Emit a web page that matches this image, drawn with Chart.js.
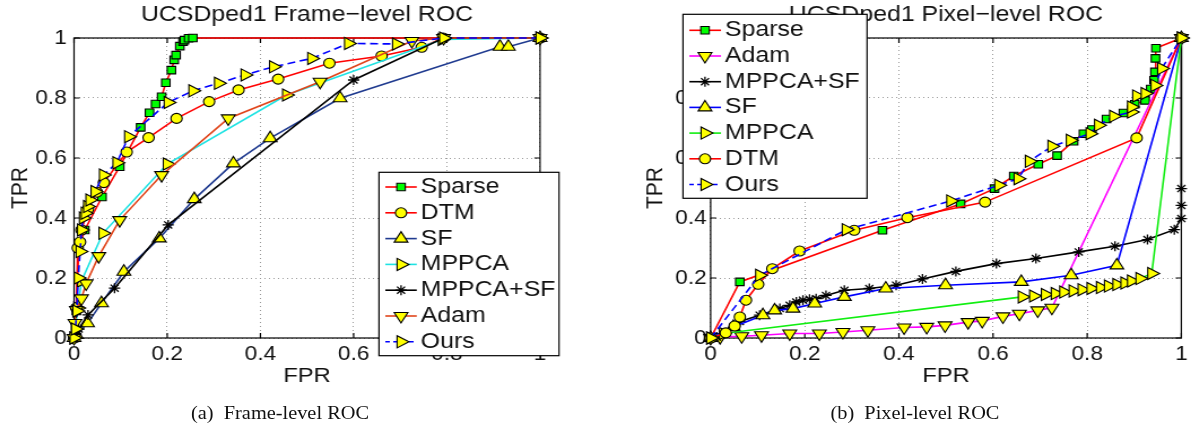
<!DOCTYPE html>
<html>
<head>
<meta charset="utf-8">
<script src="https://cdn.jsdelivr.net/npm/chart.js@4.4.0/dist/chart.umd.min.js"></script>
<style>
  html, body { margin: 0; padding: 0; background: #fff; overflow: hidden; }
  /* the reference figure is stretched horizontally, so the whole page is too */
  #wrap { position: absolute; left: 0; top: 0; width: 1055px; height: 428px; transform: scaleX(1.13); transform-origin: 0 0; }
  canvas { position: absolute; top: 0; }
  .cap { position: absolute; top: 403px; width: 260px; text-align: center; font: 18px "Liberation Serif", "Times New Roman", serif; line-height: 20px; white-space: pre; color: #111; }
</style>
</head>
<body>
<div id="wrap">
  <canvas id="frameChart" width="530" height="392" style="left:0"></canvas>
  <canvas id="pixelChart" width="515" height="392" style="left:540px"></canvas>
  <div class="cap" style="left:117.8px">(a)  Frame-level ROC</div>
  <div class="cap" style="left:679.7px">(b)  Pixel-level ROC</div>
</div>
<script>
const FONT = '"Liberation Sans", Arial, Helvetica, sans-serif';

const tickValues = [0, 0.2, 0.4, 0.6, 0.8, 1];
const tickLabels = ["0", "0.2", "0.4", "0.6", "0.8", "1"];

// ---- (a) frame-level ROC ----
const frameSparseFpr = [0, 0.005, 0.01, 0.023, 0.06, 0.098, 0.143, 0.162, 0.175, 0.188, 0.197, 0.209, 0.215, 0.219, 0.227, 0.234, 0.237, 0.246, 0.255, 1];
const frameSparseTpr = [0, 0.09, 0.3, 0.36, 0.47, 0.571, 0.702, 0.751, 0.78, 0.804, 0.851, 0.893, 0.927, 0.943, 0.973, 0.988, 0.993, 0.999, 1, 1];
const frameDtmFpr = [0, 0.005, 0.008, 0.013, 0.016, 0.03, 0.049, 0.064, 0.113, 0.16, 0.22, 0.29, 0.353, 0.438, 0.548, 0.66, 0.746, 0.792, 1];
const frameDtmTpr = [0, 0.1, 0.3, 0.32, 0.36, 0.43, 0.486, 0.518, 0.62, 0.668, 0.732, 0.788, 0.827, 0.863, 0.916, 0.94, 0.969, 1, 1];
const frameSfFpr = [0, 0.005, 0.029, 0.059, 0.107, 0.183, 0.258, 0.342, 0.421, 0.571, 0.914, 0.932, 1];
const frameSfTpr = [0, 0.01, 0.049, 0.116, 0.221, 0.332, 0.463, 0.582, 0.666, 0.799, 0.971, 0.971, 1];
const frameMppcaFpr = [0, 0.003, 0.008, 0.016, 0.062, 0.2, 0.456, 0.79, 1];
const frameMppcaTpr = [0, 0.03, 0.1, 0.19, 0.349, 0.58, 0.81, 0.995, 1];
const frameMppcaSfFpr = [0, 0.004, 0.01, 0.03, 0.087, 0.202, 0.6, 0.793, 1];
const frameMppcaSfTpr = [0, 0.015, 0.03, 0.077, 0.166, 0.377, 0.86, 1, 1];
const frameAdamFpr = [0, 0.002, 0.005, 0.016, 0.026, 0.053, 0.098, 0.188, 0.331, 0.528, 0.725, 0.793, 1];
const frameAdamTpr = [0, 0.05, 0.093, 0.132, 0.182, 0.273, 0.393, 0.543, 0.732, 0.854, 0.99, 1, 1];
const frameOursFpr = [0, 0.003, 0.006, 0.009, 0.013, 0.016, 0.02, 0.024, 0.029, 0.034, 0.045, 0.063, 0.092, 0.117, 0.202, 0.255, 0.31, 0.367, 0.428, 0.51, 0.589, 0.692, 0.793, 1];
const frameOursTpr = [0, 0.03, 0.09, 0.2, 0.288, 0.36, 0.4, 0.416, 0.438, 0.46, 0.488, 0.543, 0.584, 0.671, 0.785, 0.824, 0.849, 0.877, 0.904, 0.932, 0.982, 0.98, 1, 1];

// ---- (b) pixel-level ROC ----
const pixelSparseFpr = [0, 0.062, 0.365, 0.531, 0.603, 0.644, 0.696, 0.736, 0.771, 0.792, 0.81, 0.841, 0.877, 0.901, 0.923, 0.935, 0.942, 0.944, 0.945, 0.946, 1];
const pixelSparseTpr = [0, 0.187, 0.359, 0.447, 0.498, 0.54, 0.579, 0.608, 0.656, 0.681, 0.695, 0.73, 0.75, 0.779, 0.792, 0.83, 0.859, 0.887, 0.932, 0.966, 1];
const pixelAdamFpr = [0, 0.02, 0.066, 0.108, 0.168, 0.231, 0.281, 0.334, 0.411, 0.459, 0.498, 0.547, 0.577, 0.621, 0.656, 0.695, 0.725, 1];
const pixelAdamTpr = [0, 0.003, 0.006, 0.009, 0.015, 0.015, 0.02, 0.026, 0.035, 0.037, 0.042, 0.053, 0.057, 0.072, 0.081, 0.092, 0.101, 1];
const pixelMppcaSfFpr = [0, 0.013, 0.062, 0.104, 0.147, 0.168, 0.182, 0.196, 0.21, 0.224, 0.245, 0.284, 0.337, 0.394, 0.45, 0.521, 0.607, 0.691, 0.782, 0.859, 0.928, 0.985, 1, 1, 1, 1];
const pixelMppcaSfTpr = [0, 0.003, 0.055, 0.076, 0.098, 0.109, 0.12, 0.126, 0.129, 0.131, 0.142, 0.159, 0.165, 0.176, 0.197, 0.222, 0.248, 0.265, 0.287, 0.306, 0.328, 0.361, 0.398, 0.442, 0.498, 1];
const pixelSfFpr = [0, 0.048, 0.111, 0.136, 0.175, 0.221, 0.284, 0.372, 0.499, 0.66, 0.766, 0.863, 1];
const pixelSfTpr = [0, 0.037, 0.076, 0.092, 0.098, 0.115, 0.137, 0.165, 0.176, 0.187, 0.209, 0.242, 1];
const pixelMppcaFpr = [0, 0.027, 0.662, 0.686, 0.711, 0.732, 0.75, 0.77, 0.789, 0.808, 0.828, 0.845, 0.863, 0.88, 0.894, 0.912, 0.937, 1];
const pixelMppcaTpr = [0, 0.015, 0.137, 0.14, 0.145, 0.148, 0.153, 0.157, 0.161, 0.165, 0.168, 0.173, 0.178, 0.183, 0.19, 0.198, 0.215, 1];
const pixelDtmFpr = [0, 0.032, 0.051, 0.062, 0.075, 0.101, 0.131, 0.189, 0.305, 0.418, 0.583, 0.905, 1];
const pixelDtmTpr = [0, 0.017, 0.04, 0.07, 0.126, 0.179, 0.231, 0.29, 0.359, 0.401, 0.453, 0.667, 1];
const pixelOursFpr = [0, 0.104, 0.288, 0.51, 0.612, 0.653, 0.677, 0.725, 0.764, 0.806, 0.824, 0.856, 0.894, 0.894, 0.905, 0.923, 0.944, 0.958, 1];
const pixelOursTpr = [0, 0.209, 0.361, 0.457, 0.509, 0.531, 0.589, 0.639, 0.659, 0.681, 0.709, 0.739, 0.753, 0.77, 0.807, 0.815, 0.842, 0.898, 1];

// marker looks (MATLAB style: yellow/green faces, black edges)
const MARKERS = {
  square:   { pointStyle: "rect", radius: 5.3, rotation: 0, fill: "#00ff00" },
  circle:   { pointStyle: "circle", radius: 5, rotation: 0, fill: "#ffff00" },
  triUp:    { pointStyle: "triangle", radius: 7, rotation: 0, fill: "#ffff00" },
  triRight: { pointStyle: "triangle", radius: 7, rotation: 90, fill: "#ffff00" },
  triDown:  { pointStyle: "triangle", radius: 7, rotation: 180, fill: "#ffff00" },
  star:     { pointStyle: "star", radius: 5, rotation: 0, fill: null }
};

const frameSeries = [
  { label: "Sparse", fpr: frameSparseFpr, tpr: frameSparseTpr, color: "#ff0000", marker: "square" },
  { label: "DTM", fpr: frameDtmFpr, tpr: frameDtmTpr, color: "#ff0000", marker: "circle" },
  { label: "SF", fpr: frameSfFpr, tpr: frameSfTpr, color: "#1f3a8f", marker: "triUp" },
  { label: "MPPCA", fpr: frameMppcaFpr, tpr: frameMppcaTpr, color: "#1ee3e3", marker: "triRight" },
  { label: "MPPCA+SF", fpr: frameMppcaSfFpr, tpr: frameMppcaSfTpr, color: "#000000", marker: "star" },
  { label: "Adam", fpr: frameAdamFpr, tpr: frameAdamTpr, color: "#e0441a", marker: "triDown" },
  { label: "Ours", fpr: frameOursFpr, tpr: frameOursTpr, color: "#0000ff", marker: "triRight", dashed: true }
];

const pixelSeries = [
  { label: "Sparse", fpr: pixelSparseFpr, tpr: pixelSparseTpr, color: "#ff0000", marker: "square" },
  { label: "Adam", fpr: pixelAdamFpr, tpr: pixelAdamTpr, color: "#ff00ff", marker: "triDown" },
  { label: "MPPCA+SF", fpr: pixelMppcaSfFpr, tpr: pixelMppcaSfTpr, color: "#000000", marker: "star" },
  { label: "SF", fpr: pixelSfFpr, tpr: pixelSfTpr, color: "#0000ff", marker: "triUp" },
  { label: "MPPCA", fpr: pixelMppcaFpr, tpr: pixelMppcaTpr, color: "#11ee11", marker: "triRight" },
  { label: "DTM", fpr: pixelDtmFpr, tpr: pixelDtmTpr, color: "#ff0000", marker: "circle" },
  { label: "Ours", fpr: pixelOursFpr, tpr: pixelOursTpr, color: "#0000ff", marker: "triRight", dashed: true }
];

function makeDatasets(series) {
  return series.map((s, i) => {
    const m = MARKERS[s.marker];
    return {
      label: s.label,
      data: s.fpr.map((x, j) => ({ x: x, y: s.tpr[j] })),
      borderColor: s.color,
      borderWidth: 1.6,
      borderDash: s.dashed ? [7, 4] : [],
      tension: 0,
      fill: false,
      clip: false,
      pointStyle: m.pointStyle,
      pointRadius: m.radius,
      pointRotation: m.rotation,
      pointBackgroundColor: m.fill || s.color,
      pointBorderColor: m.fill ? "#000" : s.color,
      pointBorderWidth: m.fill ? 1.1 : 1.3,
      // later series on top, like MATLAB
      order: series.length - i
    };
  });
}

function drawMarker(ctx, m, color, x, y) {
  ctx.fillStyle = m.fill || color;
  ctx.strokeStyle = m.fill ? "#000" : color;
  ctx.lineWidth = m.fill ? 1.1 : 1.3;
  Chart.helpers.drawPoint(ctx, { pointStyle: m.pointStyle, rotation: m.rotation, radius: m.radius, borderWidth: ctx.lineWidth }, x, y);
}

// box, inward ticks, title, axis labels and the boxed legend
function makeOverlay(series, cfg) {
  return {
    id: "matlabOverlay",
    beforeDatasetsDraw(chart) {
      const { ctx, chartArea: a, scales } = chart;
      const cx = (a.left + a.right) / 2, cy = (a.top + a.bottom) / 2;
      ctx.save();
      ctx.strokeStyle = "#000";
      ctx.lineWidth = 1.2;
      ctx.strokeRect(a.left, a.top, a.right - a.left, a.bottom - a.top);
      ctx.beginPath();
      tickValues.forEach(v => {
        const px = scales.x.getPixelForValue(v), py = scales.y.getPixelForValue(v);
        ctx.moveTo(px, a.bottom); ctx.lineTo(px, a.bottom - 5);
        ctx.moveTo(px, a.top); ctx.lineTo(px, a.top + 5);
        ctx.moveTo(a.left, py); ctx.lineTo(a.left + 5, py);
        ctx.moveTo(a.right, py); ctx.lineTo(a.right - 5, py);
      });
      ctx.stroke();

      ctx.fillStyle = "#111";
      ctx.textAlign = "center";
      ctx.textBaseline = "alphabetic";
      ctx.font = "22px " + FONT;
      ctx.fillText(cfg.title, cx, 21);
      ctx.font = "21px " + FONT;
      ctx.fillText("FPR", cx, 381.5);
      ctx.translate(a.left - cfg.yLabelGap, cy);
      ctx.rotate(-Math.PI / 2);
      ctx.fillText("TPR", 0, 0);
      ctx.restore();
    },
    afterDatasetsDraw(chart) {
      const ctx = chart.ctx;
      const L = cfg.legend;
      ctx.save();
      ctx.fillStyle = "#fff";
      ctx.fillRect(L.left, L.top, L.width, L.height);
      ctx.strokeStyle = "#000";
      ctx.lineWidth = 1.2;
      ctx.strokeRect(L.left, L.top, L.width, L.height);
      series.forEach((s, i) => {
        const y = L.firstRow + i * L.rowGap;
        ctx.strokeStyle = s.color;
        ctx.lineWidth = 1.6;
        ctx.setLineDash(s.dashed ? [4, 3] : []);
        ctx.beginPath();
        ctx.moveTo(L.lineX0, y);
        ctx.lineTo(L.lineX1, y);
        ctx.stroke();
        ctx.setLineDash([]);
        drawMarker(ctx, MARKERS[s.marker], s.color, L.markX, y);
        ctx.fillStyle = "#111";
        ctx.font = "22px " + FONT;
        ctx.textAlign = "left";
        ctx.textBaseline = "middle";
        ctx.fillText(s.label, L.textX, y);
      });
      ctx.restore();
    }
  };
}

function axis(height, width, pad) {
  return {
    type: "linear",
    min: 0,
    max: 1,
    afterBuildTicks: s => { s.ticks = tickValues.map(v => ({ value: v })); },
    afterFit: s => {
      if (height) s.height = height;
      if (width) s.width = width;
    },
    ticks: {
      callback: (v, i) => tickLabels[i],
      padding: pad,
      color: "#111",
      font: { family: FONT, size: 20 },
      maxRotation: 0,
      autoSkip: false
    },
    grid: { color: "#9a9a9a", lineWidth: 1, drawTicks: false },
    border: { display: false, dash: [1, 3] }
  };
}

function makeChart(canvasId, series, cfg) {
  return new Chart(document.getElementById(canvasId), {
    type: "line",
    data: { datasets: makeDatasets(series) },
    options: {
      responsive: false,
      animation: false,
      devicePixelRatio: 1,
      layout: { padding: { left: 0, top: 38, right: cfg.padRight, bottom: 0 } },
      plugins: {
        legend: { display: false },
        title: { display: false },
        tooltip: { enabled: false }
      },
      scales: {
        x: axis(54, null, 4),
        y: axis(null, cfg.yWidth, cfg.yPad)
      }
    },
    plugins: [makeOverlay(series, cfg)]
  });
}

makeChart("frameChart", frameSeries, {
  title: "UCSDped1 Frame\u2212level ROC",
  padRight: 52.1,
  yWidth: 65.5,
  yPad: 6.5,
  yLabelGap: 42,
  legend: { left: 335.4, top: 172.3, width: 159.3, height: 183.4, firstRow: 187, rowGap: 25.8, lineX0: 341, lineX1: 368.8, markX: 354.9, textX: 372.3 }
});

makeChart("pixelChart", pixelSeries, {
  title: "UCSDped1 Pixel\u2212level ROC",
  padRight: 8.1,
  yWidth: 88.9,
  yPad: 3.5,
  yLabelGap: 43.3,
  legend: { left: 64.4, top: 14.3, width: 162.9, height: 184, firstRow: 30.3, rowGap: 25.7, lineX0: 70, lineX1: 98, markX: 83.9, textX: 101.6 }
});
</script>
</body>
</html>
